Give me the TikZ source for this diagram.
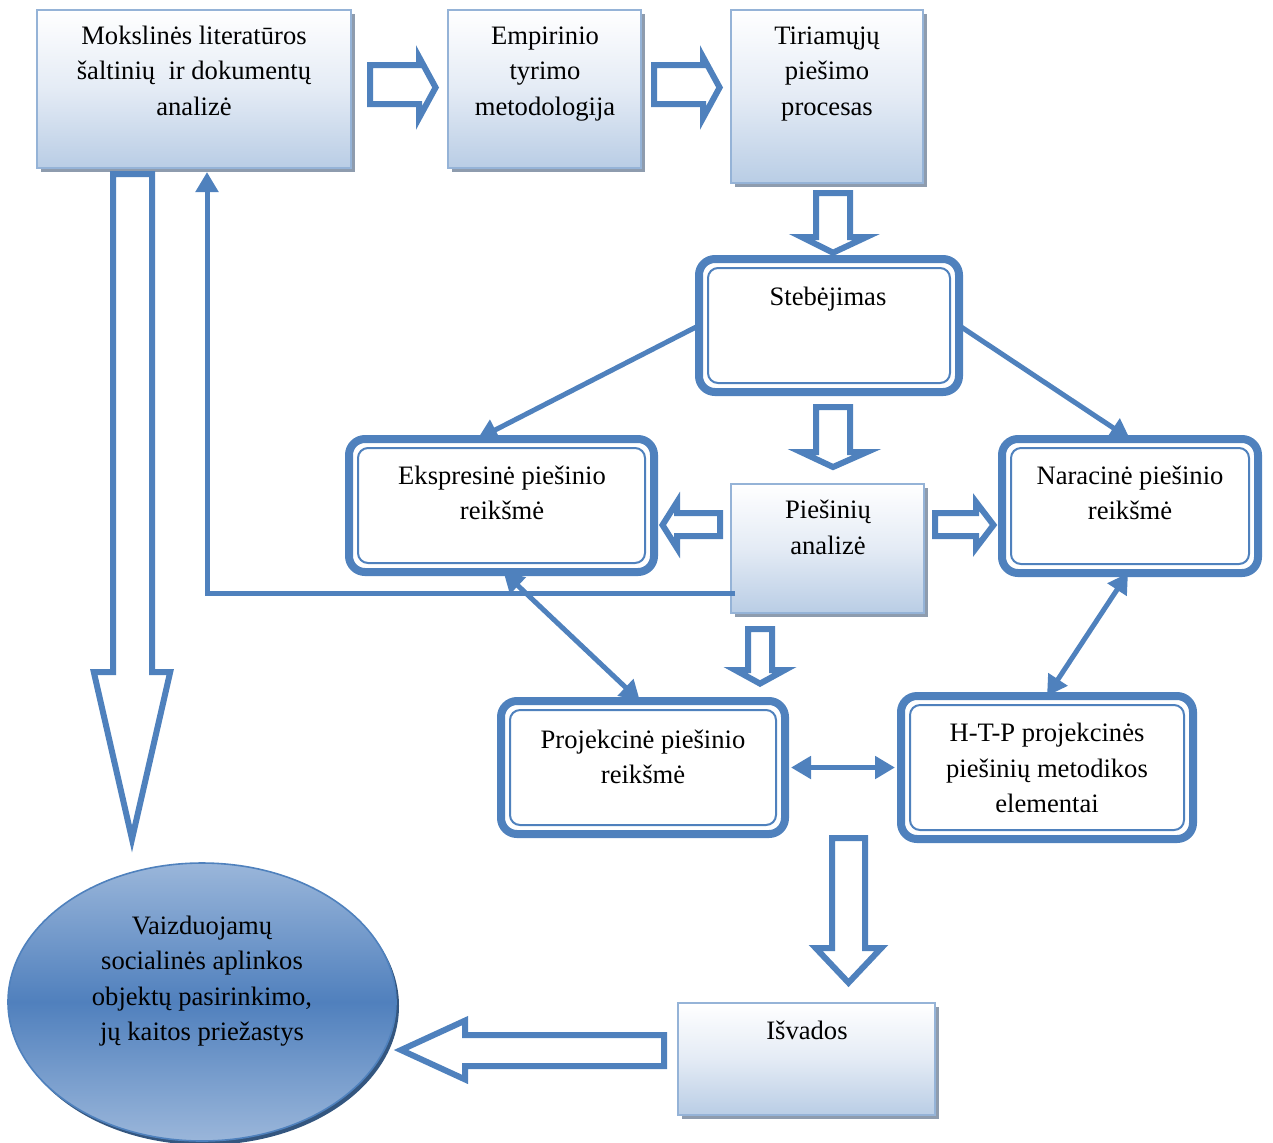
\documentclass[tikz,border=0pt]{standalone}
\usepackage{fontspec}
\setmainfont{Liberation Serif}
\usetikzlibrary{arrows.meta,shapes.geometric,shadows}
\definecolor{mblue}{HTML}{4F81BD}
\definecolor{lblue}{HTML}{95B3D7}
\definecolor{boxbot}{HTML}{B9CDE5}
\definecolor{boxmid}{HTML}{E4EBF5}
\definecolor{shadowc}{HTML}{8E9CAE}
\definecolor{elltop}{HTML}{9AB6DA}
\definecolor{ellmid}{HTML}{5080BD}
\definecolor{ellshadow}{HTML}{34567F}
\begin{document}
\begin{tikzpicture}[x=0.5pt,y=-0.5pt,
  font=\fontsize{13.3}{17.75}\selectfont,
  gbox/.style={draw=lblue,line width=1.2pt,top color=white,bottom color=boxbot,middle color=boxmid,
    inner sep=0pt,outer sep=0pt,
    drop shadow={shadow xshift=2pt,shadow yshift=-2pt,fill=shadowc,opacity=1}},
  dbox/.style={draw=mblue,line width=4pt,rounded corners=8pt,fill=white,inner sep=0pt,outer sep=0pt},
  innerline/.style={draw=mblue,line width=1pt,rounded corners=5pt},
  txt/.style={align=center,inner sep=0pt},
  barrow/.style={draw=mblue,line width=3pt,fill=white,line join=miter,miter limit=20},
  conn/.style={draw=mblue,line width=2.5pt,line join=miter,-{Triangle[length=10pt,width=11pt]}},
  dconn/.style={draw=mblue,line width=2.5pt,{Triangle[length=10pt,width=11pt]}-{Triangle[length=10pt,width=11pt]}}]
\useasboundingbox (0,0) rectangle (1273,1142);

% gradient boxes
\node[gbox,minimum width=157pt,minimum height=79pt] (A) at (194,89) {};
\node[gbox,minimum width=96.5pt,minimum height=79pt] (B) at (544.5,89) {};
\node[gbox,minimum width=96pt,minimum height=86.5pt] (C) at (827,96.5) {};
\node[gbox,minimum width=96.5pt,minimum height=64.5pt] (E) at (827.5,548.5) {};
\node[gbox,minimum width=128.5pt,minimum height=56pt] (J) at (806.5,1059) {};

% double bordered boxes
\node[dbox,minimum width=130pt,minimum height=66.5pt] (D) at (829,325.5) {};
\node[dbox,minimum width=152.5pt,minimum height=66.5pt] (F) at (501.5,505.5) {};
\node[dbox,minimum width=128pt,minimum height=67pt] (G) at (1130,506) {};
\node[dbox,minimum width=142pt,minimum height=66.5pt] (H) at (643,767.5) {};
\node[dbox,minimum width=146pt,minimum height=71.5pt] (I) at (1047,767.5) {};
\foreach \n in {D,F,G,H,I}
  \draw[innerline] ([shift={(9,9)}]\n.north west) rectangle ([shift={(-9,-9)}]\n.south east);

% ellipse
\node[ellipse,minimum width=194pt,minimum height=139pt,inner sep=0pt,outer sep=0pt,
  draw=mblue,line width=0.8pt,top color=elltop,bottom color=elltop,middle color=ellmid,
  drop shadow={shadow xshift=1.5pt,shadow yshift=-2pt,fill=ellshadow,opacity=1}] (K) at (202,1002) {};

% texts
\node[txt] (At) at (194,72.5) {\strut Mokslinės literatūros\\šaltinių \ ir dokumentų\\analizė\strut};
\node[txt] (Bt) at (545,72.5) {\strut Empirinio\\tyrimo\\metodologija\strut};
\node[txt] (Ct) at (827,72.5) {\strut Tiriamųjų\\piešimo\\procesas\strut};
\node[txt] (Dt) at (828,298) {\strut Stebėjimas\strut};
\node[txt] (Et) at (828,529.5) {\strut Piešinių\\analizė\strut};
\node[txt] (Ft) at (502,495) {\strut Ekspresinė piešinio\\reikšmė\strut};
\node[txt] (Gt) at (1130,495) {\strut Naracinė piešinio\\reikšmė\strut};
\node[txt] (Ht) at (643,759) {\strut Projekcinė piešinio\\reikšmė\strut};
\node[txt] (It) at (1047,770) {\strut H-T-P projekcinės\\piešinių metodikos\\elementai\strut};
\node[txt] (Jt) at (807,1032) {\strut Išvados\strut};
\node[txt] (Kt) at (202,980.5) {\strut Vaizduojamų\\socialinės aplinkos\\objektų pasirinkimo,\\jų kaitos priežastys\strut};

% block arrows
\draw[barrow] (370,65) -- (419,65) -- (419,57) -- (435.6,87.5) -- (419,118) -- (419,104) -- (370,104) -- cycle;
\draw[barrow] (654,65) -- (703,65) -- (703,57) -- (719.6,87.5) -- (703,118) -- (703,104) -- (654,104) -- cycle;
\draw[barrow] (816,193) -- (850,193) -- (850,237) -- (866.5,237) -- (833,252.7) -- (801.5,237) -- (816,237) -- cycle;
\draw[barrow] (816,407) -- (850,407) -- (850,452) -- (867,452) -- (833,467) -- (801,452) -- (816,452) -- cycle;
\draw[barrow] (720,513) -- (677,513) -- (677,502) -- (662.5,525) -- (677,548) -- (677,536) -- (720,536) -- cycle;
\draw[barrow] (935,513) -- (976,513) -- (976,502) -- (993.5,525) -- (976,548) -- (976,536) -- (935,536) -- cycle;
\draw[barrow] (748,629) -- (772,629) -- (772,670) -- (784.8,670) -- (760,683.6) -- (735.2,670) -- (748,670) -- cycle;
\draw[barrow] (832,838) -- (865,838) -- (865,948) -- (881.3,948) -- (848.5,982.7) -- (815.7,948) -- (832,948) -- cycle;
\draw[barrow] (664,1035) -- (465,1035) -- (465,1020.6) -- (401,1050) -- (465,1079.4) -- (465,1066) -- (664,1066) -- cycle;
\draw[barrow] (113,174) -- (152,174) -- (152,672) -- (170.2,672) -- (132,839) -- (93.8,672) -- (113,672) -- cycle;

% thin connectors
\draw[conn] (D.west) -- ([shift={(-24,0)}]F.north);
\draw[conn] (D.east) -- (G.north);
\draw[conn] ([shift={(4,44.5)}]E.west) -| ([shift={(13,4)}]A.south);
\draw[dconn] ([shift={(2,0)}]F.south) -- ([shift={(-3,0)}]H.north);
\draw[dconn] ([shift={(-2,0)}]G.south) -- (I.north);
\draw[dconn] ([shift={(6,0)}]H.east) -- ([shift={(-6,0)}]I.west);
\end{tikzpicture}
\end{document}
